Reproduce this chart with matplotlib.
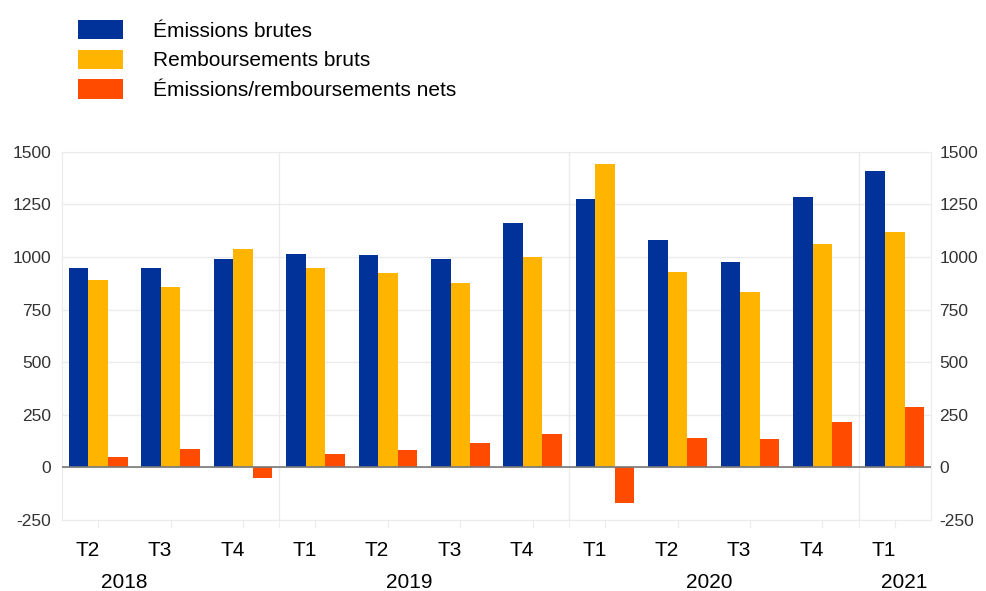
import numpy as np
import matplotlib
matplotlib.use("Agg")
import matplotlib.pyplot as plt
from matplotlib.patches import Patch

plt.rcParams["font.family"] = ["Liberation Sans", "DejaVu Sans"]
plt.rcParams["axes.unicode_minus"] = False

quarters = ["T2", "T3", "T4", "T1", "T2", "T3", "T4", "T1", "T2", "T3", "T4", "T1"]
years = ["2018", "2019", "2020", "2021"]
year_pos = [0.36, 4.3, 8.44, 11.13]
year_bounds = [2.5, 6.5, 10.5]

emissions = [947, 950, 993, 1015, 1008, 993, 1163, 1275, 1079, 976, 1285, 1407]
repayments = [891, 857, 1039, 947, 923, 876, 1002, 1442, 931, 836, 1061, 1117]
net = [51, 86, -52, 63, 83, 115, 158, -167, 142, 134, 218, 286]

series_names = ["Émissions brutes", "Remboursements bruts", "Émissions/remboursements nets"]
colors = ["#003299", "#FFB400", "#FF4B00"]

fig = plt.figure(figsize=(9.86, 5.91), dpi=100)
ax = fig.add_axes([0.0629, 0.120, 0.8813, 0.623])

x = np.arange(len(quarters))
w = 0.27
for k, vals in enumerate([emissions, repayments, net]):
    ax.bar(x + (k - 1) * w, vals, width=w, color=colors[k], zorder=3)

ax.set_xlim(-0.5, len(quarters) - 0.5)
ax.set_ylim(-250, 1500)
ticks = [-250, 0, 250, 500, 750, 1000, 1250, 1500]
ax.set_yticks(ticks)
ax.grid(axis="y", color="#ebebeb", lw=1, zorder=0)
ax.axhline(0, color="#777777", lw=1.2, zorder=4)
for b in year_bounds:
    ax.axvline(b, color="#ebebeb", lw=1, zorder=0)

for s in ax.spines.values():
    s.set_color("#ebebeb")

ax.tick_params(axis="y", length=0, labelsize=12.5, labelcolor="#333333", pad=8)
ax.set_xticks(x)
ax.set_xticks(year_bounds, minor=True)
ax.tick_params(axis="x", which="both", length=6, color="#ececec", labelbottom=False)

ax2 = ax.twinx()
ax2.set_ylim(ax.get_ylim())
ax2.set_yticks(ticks)
ax2.tick_params(axis="y", length=0, labelsize=12.5, labelcolor="#333333", pad=6)
for s in ax2.spines.values():
    s.set_visible(False)

tr = matplotlib.transforms.blended_transform_factory(ax.transData, fig.transFigure)
for i, q in enumerate(quarters):
    ax.text(i - 0.15, 1 - 551 / 591, q, transform=tr, ha="center", va="center", fontsize=15)
for yr, p in zip(years, year_pos):
    ax.text(p, 1 - 582 / 591, yr, transform=tr, ha="center", va="center", fontsize=15)

handles = [Patch(facecolor=c) for c in colors]
fig.legend(handles, series_names, loc="upper left", bbox_to_anchor=(78 / 986, 1 - 20 / 591),
           frameon=False, fontsize=15, handlelength=2.16, handleheight=1.06,
           handletextpad=1.44, labelspacing=0.42, borderpad=0, borderaxespad=0)

fig.savefig("out.png", dpi=100)
